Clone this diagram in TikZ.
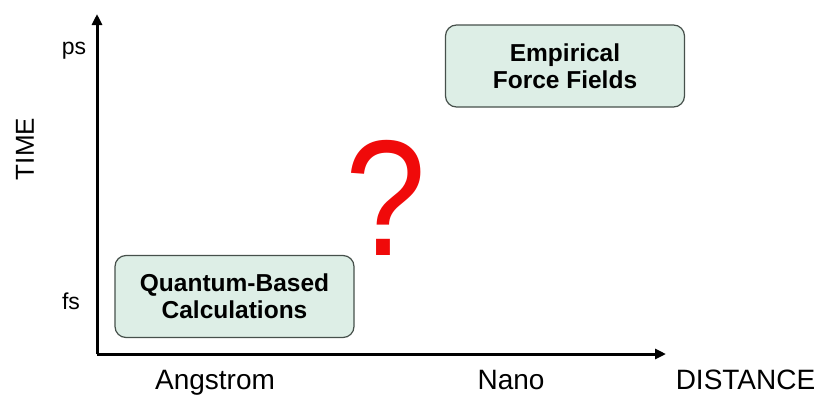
\documentclass[tikz,border=0pt]{standalone}
\usepackage{fontspec}
\setmainfont{Liberation Sans}
\usetikzlibrary{arrows.meta}
\definecolor{boxfill}{RGB}{221,238,230}
\definecolor{boxline}{RGB}{70,80,75}
\definecolor{qred}{RGB}{240,10,10}
\begin{document}
\begin{tikzpicture}[x=1pt,y=-1pt,
  axis/.style={line width=3pt,-{Triangle[length=11pt,width=10pt]}},
  regime/.style={draw=boxline,line width=1.2pt,fill=boxfill,rounded corners=11pt,
    minimum width=239pt,minimum height=82pt,align=center,
    font=\fontsize{24.5}{27}\selectfont\bfseries},
  axlabel/.style={font=\fontsize{28}{30}\selectfont,inner sep=0pt,anchor=base},
  tick/.style={font=\fontsize{23}{25}\selectfont}]
\useasboundingbox (0,0) rectangle (822,394);
\coordinate (o) at (97,354);
\coordinate (ytop) at (97,14);
\coordinate (xend) at (666,354);
\draw[axis] (o) -- (ytop);
\draw[axis] (o) -- (xend);
\node[regime] (qm) at (234.5,296.5) {Quantum-Based\\Calculations};
\node[regime] (ff) at (565,66) {Empirical\\Force Fields};
\node[text=qred,font=\fontsize{165}{165}\selectfont,xscale=0.88] (q) at (386,198) {?};
\node[tick] (ps) at (74,51) {ps};
\node[tick] (fs) at (71,301) {fs};
\node[rotate=90,font=\fontsize{26}{28}\selectfont] (time) at (25,149) {TIME};
\node[axlabel] (ang) at (215,389) {Angstrom};
\node[axlabel] (nano) at (511,389) {Nano};
\node[axlabel] (dist) at (745.5,389) {DISTANCE};
\end{tikzpicture}
\end{document}
